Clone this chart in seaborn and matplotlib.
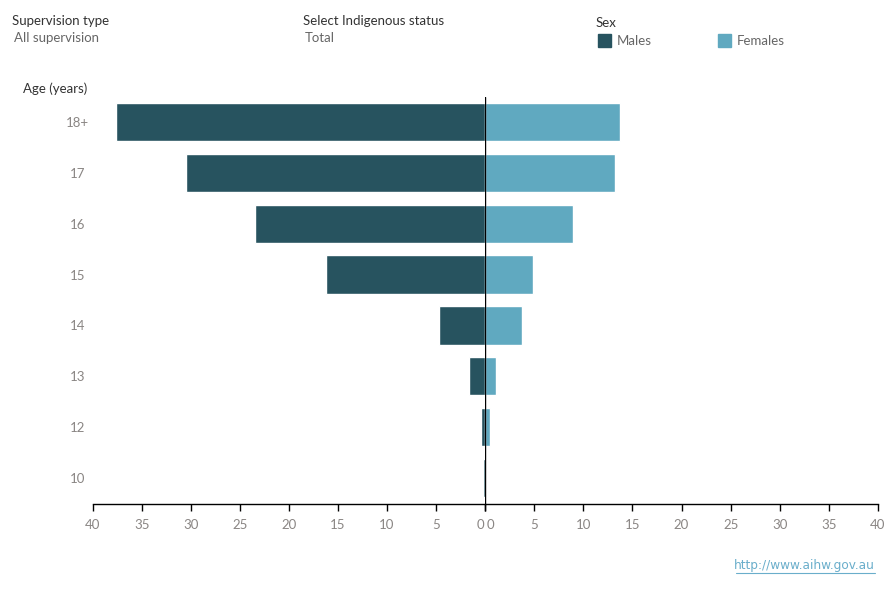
import matplotlib
matplotlib.use("Agg")
import matplotlib.pyplot as plt
import matplotlib.transforms as mtransforms
import seaborn as sns
import pandas as pd
from matplotlib.patches import Rectangle

ages = ["18+", "17", "16", "15", "14", "13", "12", "10"]
males = [37.6, 30.5, 23.5, 16.2, 4.7, 1.6, 0.4, 0.25]
females = [13.7, 13.2, 9.0, 4.9, 3.8, 1.1, 0.5, 0.0]
x_ticks = [0, 5, 10, 15, 20, 25, 30, 35, 40]

male_color = "#27535f"
female_color = "#60a9c0"
tick_color = "#8a8684"

sns.set_theme(style="white")
plt.rcParams["font.family"] = ["Lato", "DejaVu Sans"]

df = pd.DataFrame({"age": ages, "Males": males, "Females": females})

fig = plt.figure(figsize=(8.9, 6.0), dpi=100)
bottom = 1 - 503.5 / 600
height = (503.5 - 96.5) / 600
axL = fig.add_axes([92.7 / 890, bottom, (485 - 92.7) / 890, height])
axR = fig.add_axes([485 / 890, bottom, (878 - 485) / 890, height])

sns.barplot(data=df, y="age", x="Males", order=ages, color=male_color,
            orient="h", width=0.75, ax=axL, saturation=1)
sns.barplot(data=df, y="age", x="Females", order=ages, color=female_color,
            orient="h", width=0.75, ax=axR, saturation=1)

for ax in (axL, axR):
    ax.set_xlim(0, 40)
    ax.set_ylim(7.5, -0.5)
    ax.set_xticks(x_ticks)
    ax.set_xticklabels([str(t) for t in x_ticks])
    ax.set_xlabel("")
    ax.set_ylabel("")
    for s in ("top", "right", "left"):
        ax.spines[s].set_visible(False)
    ax.spines["bottom"].set_color("black")
    ax.spines["bottom"].set_linewidth(1)
    ax.tick_params(axis="x", bottom=True, length=5, width=1, color="black",
                   labelsize=9.5, labelcolor=tick_color, pad=6)
    ax.patch.set_alpha(0)

axL.invert_xaxis()
axL.set_yticks(range(len(ages)))
axL.set_yticklabels(ages)
axL.tick_params(axis="y", left=False, labelsize=9.5, labelcolor=tick_color, pad=-7)
for lbl in axL.get_yticklabels():
    lbl.set_horizontalalignment("center")
    lbl.set_transform(lbl.get_transform() + mtransforms.ScaledTranslation(-0.165, 0, fig.dpi_scale_trans))
axR.set_yticks([])
axR.axvline(0, color="black", linewidth=1, zorder=5)

# shift the two zero labels apart
for lbl in axL.get_xticklabels():
    if lbl.get_text() == "0":
        lbl.set_horizontalalignment("right")
        lbl.set_transform(lbl.get_transform() + mtransforms.ScaledTranslation(-0.01, 0, fig.dpi_scale_trans))
for lbl in axR.get_xticklabels():
    if lbl.get_text() == "0":
        lbl.set_horizontalalignment("left")
        lbl.set_transform(lbl.get_transform() + mtransforms.ScaledTranslation(0.02, 0, fig.dpi_scale_trans))

dark = "#333333"
fig.text(12 / 890, 1 - 21 / 600, "Supervision type", fontsize=9.5, color=dark, va="center")
fig.text(14 / 890, 1 - 38.5 / 600, "All supervision", fontsize=9.5, color="#666666", va="center")
fig.text(303 / 890, 1 - 21 / 600, "Select Indigenous status", fontsize=9.5, color=dark, va="center")
fig.text(305 / 890, 1 - 38.5 / 600, "Total", fontsize=9.5, color="#666666", va="center")
fig.text(596 / 890, 1 - 23 / 600, "Sex", fontsize=9.5, color=dark, va="center")
fig.patches.append(Rectangle((598 / 890, 1 - 47 / 600), 13 / 890, 13 / 600,
                             transform=fig.transFigure, color=male_color, figure=fig))
fig.text(617 / 890, 1 - 41 / 600, "Males", fontsize=9.5, color="#666666", va="center")
fig.patches.append(Rectangle((718 / 890, 1 - 47 / 600), 13 / 890, 13 / 600,
                             transform=fig.transFigure, color=female_color, figure=fig))
fig.text(737 / 890, 1 - 41 / 600, "Females", fontsize=9.5, color="#666666", va="center")
fig.text(23 / 890, 1 - 88.5 / 600, "Age (years)", fontsize=9.5, color=dark, va="center")

url = fig.text(875 / 890, 1 - 566 / 600, "http://www.aihw.gov.au", fontsize=8.7,
               color="#6aaecb", ha="right", va="center", fontfamily="DejaVu Sans")
fig.lines.append(plt.Line2D([736 / 890, 875 / 890], [1 - 573 / 600, 1 - 573 / 600],
                            transform=fig.transFigure, color="#6aaecb", linewidth=0.8))

fig.savefig("out.png", dpi=100)
